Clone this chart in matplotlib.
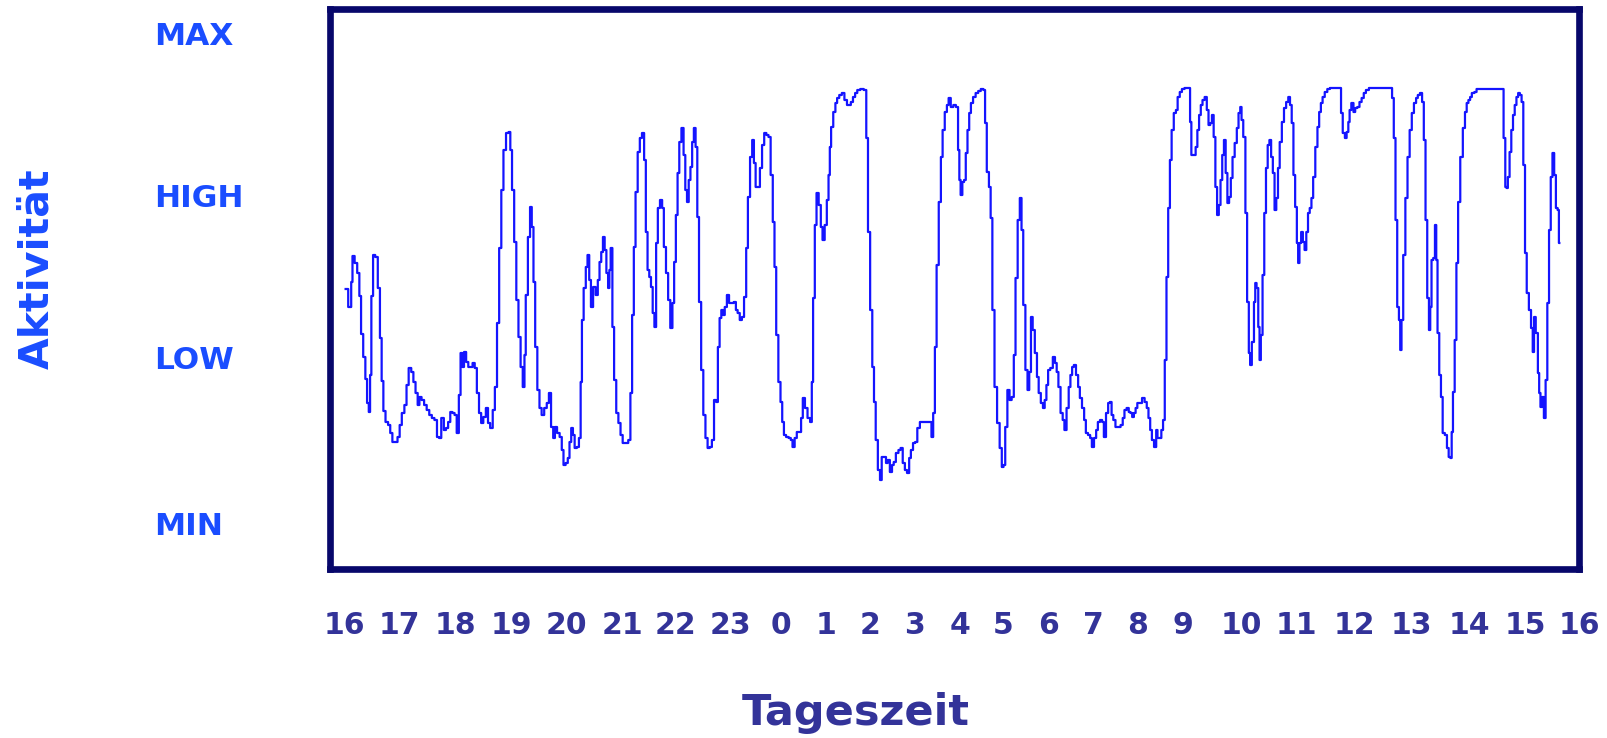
import matplotlib
matplotlib.use("Agg")
import matplotlib.pyplot as plt
import matplotlib.transforms as mtrans

# activity trace: minutes since 16:00 and activity (arbitrary units)
t_min = [
    2, 8, 9, 11, 14, 17, 19, 21, 24, 26,
    28, 30, 31, 33, 35, 38, 41, 43, 45, 47,
    50, 53, 55, 58, 61, 64, 66, 69, 72, 74,
    77, 80, 82, 85, 87, 89, 92, 95, 98, 101,
    104, 107, 110, 112, 115, 118, 120, 123, 125, 128,
    130, 133, 135, 137, 139, 141, 144, 146, 149, 151,
    154, 156, 159, 161, 164, 167, 169, 172, 175, 177,
    180, 182, 185, 187, 191, 193, 195, 197, 200, 202,
    205, 207, 210, 211, 213, 216, 218, 220, 222, 224,
    227, 229, 232, 235, 238, 240,
    243, 245, 247, 250, 253, 255, 257, 260, 262, 264,
    266, 268, 270, 273, 275, 277, 278, 281, 283, 285,
    287, 289, 292, 295, 297, 299, 301, 303, 305, 307,
    309, 310, 312, 314, 316, 319, 321, 324, 326, 330,
    333, 335, 337, 339, 341, 344, 346, 349, 351, 353,
    355, 357, 359, 361, 363, 365, 367, 370, 372, 374,
    377, 379, 382, 384, 386, 388, 390, 392, 395, 397,
    399, 401, 403, 405, 407, 409, 411, 413, 415, 418,
    420, 423, 425, 428, 430, 433, 435, 437, 439, 441,
    443, 445, 448, 450, 453, 456, 458, 460, 463, 465,
    468, 470, 472, 475, 477, 479, 481, 484,
    486, 489, 491, 494, 496, 499, 501, 503, 505, 508,
    510, 512, 514, 517, 520, 522, 524, 527, 529, 532,
    534, 536, 539, 542, 545, 546, 548, 550, 552, 555,
    557, 559, 562, 564, 566, 567, 569, 572, 574, 576,
    579, 582, 585, 588, 590, 592, 595, 597, 600, 604,
    608, 610, 612, 615, 617, 619, 621, 624, 626, 628,
    631, 633, 635, 638, 640, 642, 645, 648, 650, 653,
    655, 658, 660, 662, 665, 667, 670, 673, 676, 679,
    684, 686, 688, 690, 692, 695, 697, 699, 702, 704,
    706, 709, 712, 715, 717,
    718, 720, 722, 724, 726, 728, 730, 732, 735, 738,
    741, 744, 747, 748, 751, 753, 755, 757, 760, 763,
    766, 768, 770, 772, 775, 777, 780, 782, 784, 787,
    789, 791, 793, 796, 798, 800, 802, 804, 807, 809,
    811, 814, 816, 818, 820, 822, 825, 828, 830, 832,
    834, 837, 839, 841, 844, 846, 848, 850, 852, 855,
    857, 859, 862, 864, 866, 869, 871, 873, 876, 878,
    880, 883, 885, 887, 890, 892, 894, 896, 898, 901,
    904, 907, 909, 911, 914, 916, 918, 920, 922, 924,
    926, 929, 932, 935, 937, 939, 941, 943, 946, 948,
    949, 952, 954, 956, 958, 960, 962, 964, 966, 969,
    971,
    973, 976, 978, 982, 986, 987, 989, 992, 994, 996,
    998, 1000, 1002, 1005, 1007, 1009, 1011, 1013, 1015, 1017,
    1019, 1021, 1023, 1025, 1027, 1029, 1031, 1033, 1035, 1037,
    1040, 1042, 1044, 1046, 1047, 1050, 1052, 1054, 1056, 1057,
    1060, 1062, 1063, 1065, 1067, 1068, 1070, 1072, 1074, 1076,
    1078, 1080, 1082, 1084, 1086, 1088, 1090, 1092, 1095, 1097,
    1100, 1102, 1104, 1106, 1108, 1110, 1112, 1113, 1115, 1117,
    1119, 1121, 1123, 1125, 1127, 1129, 1131, 1134, 1136, 1138,
    1140, 1142, 1145, 1148, 1151, 1155, 1159, 1162, 1163, 1166,
    1168, 1170, 1172, 1173, 1176, 1178, 1180, 1183, 1185, 1188,
    1190, 1193, 1197, 1205,
    1221, 1223, 1225, 1227, 1229, 1231, 1232, 1234, 1236, 1239,
    1241, 1244, 1246, 1249, 1251, 1253, 1256, 1258, 1260, 1262,
    1264, 1266, 1267, 1269, 1271, 1273, 1274, 1276, 1278, 1280,
    1282, 1285, 1287, 1289, 1291, 1292, 1294, 1296, 1298, 1300,
    1303, 1306, 1308, 1310, 1312, 1314, 1316, 1320, 1321, 1337,
    1351, 1353, 1355, 1356, 1358, 1360, 1362, 1364, 1366, 1368,
    1370, 1372, 1374, 1376, 1378, 1380, 1383, 1385, 1387, 1388,
    1391, 1393, 1394, 1396, 1398, 1400, 1402, 1404, 1406, 1408,
    1410, 1412, 1414, 1416, 1417,
]
activity = [
    200, 182, 207, 233, 226, 216, 193, 155, 132, 110,
    86, 77, 114, 193, 234, 232, 201, 151, 108, 78,
    67, 64, 56, 47, 47, 52, 64, 76, 84, 104,
    121, 117, 107, 96, 84, 92, 89, 84, 79, 74,
    71, 69, 52, 51, 71, 59, 61, 67, 77, 76,
    74, 56, 94, 136, 122, 137, 127, 122, 122, 126,
    121, 96, 76, 66, 72, 81, 66, 61, 79, 102,
    166, 241, 299, 339, 356, 357, 339, 299, 247, 189,
    152, 122, 102, 134, 194, 252, 282, 262, 207, 142,
    99, 81, 74, 81, 86, 96,
    62, 51, 62, 56, 52, 39, 24, 26, 31, 47,
    61, 54, 41, 42, 51, 107, 169, 201, 222, 234,
    209, 182, 202, 194, 209, 227, 237, 252, 239, 216,
    201, 219, 241, 162, 109, 76, 66, 54, 46, 46,
    49, 96, 174, 242, 297, 337, 351, 356, 329, 257,
    219, 212, 202, 176, 162, 246, 281, 289, 281, 242,
    216, 189, 161, 186, 227, 274, 316, 347, 361, 334,
    299, 287, 309, 322, 347, 361, 342, 272, 187, 119,
    74, 51, 41, 42, 49, 89, 87, 142, 171, 179,
    174, 182, 194, 186, 186, 187, 179, 176, 169, 172,
    192, 241, 292, 332, 349, 326, 302, 302,
    321, 344, 356, 354, 352, 314, 267, 222, 154, 107,
    87, 67, 54, 52, 51, 49, 42, 51, 57, 57,
    71, 91, 81, 71, 67, 107, 191, 264, 296, 284,
    262, 249, 264, 289, 314, 342, 362, 377, 386, 391,
    394, 396, 389, 384, 384, 387, 392, 396, 399, 400,
    399, 351, 257, 179, 122, 87, 49, 19, 9, 32,
    32, 26, 29, 17, 24, 27, 36, 39, 41, 26,
    19, 16, 31, 39, 46, 47, 61, 67, 67, 67,
    67, 52, 76, 142, 224, 287, 332, 359, 377, 384,
    391, 382, 384, 382, 339,
    309, 294, 307, 309, 336, 359, 376, 386, 392, 396,
    398, 400, 399, 366, 317, 302, 271, 179, 102, 66,
    41, 22, 24, 62, 99, 89, 92, 134, 211, 269,
    291, 259, 184, 119, 99, 117, 172, 159, 136, 112,
    96, 86, 81, 89, 104, 119, 121, 132, 126, 117,
    102, 76, 69, 59, 81, 102, 114, 122, 124, 114,
    102, 91, 81, 69, 56, 54, 51, 42, 51, 59,
    67, 69, 67, 52, 76, 86, 87, 74, 69, 62,
    62, 64, 71, 79, 81, 77, 76, 72, 76, 81,
    86, 86, 91, 87, 81, 71, 59, 49, 42, 59,
    51, 51, 59, 69, 129, 212, 281, 329, 359, 376,
    379,
    392, 397, 400, 401, 401, 367, 334, 334, 342, 359,
    374, 384, 389, 392, 379, 364, 366, 374, 352, 302,
    274, 284, 309, 334, 349, 316, 286, 292, 311, 332,
    346, 361, 376, 382, 369, 352, 276, 187, 136, 124,
    147, 187, 206, 201, 162, 129, 154, 214, 276, 321,
    344, 349, 332, 316, 279, 291, 321, 347, 367, 381,
    387, 392, 384, 366, 314, 282, 246, 226, 246, 257,
    247, 239, 257, 276, 281, 291, 312, 342, 362, 377,
    386, 392, 397, 400, 401, 401, 401, 401, 376, 356,
    351, 357, 367, 379, 386, 377, 381, 382, 387, 391,
    396, 399, 401, 401,
    401, 391, 351, 269, 182, 169, 139, 169, 234, 291,
    332, 359, 376, 386, 391, 394, 396, 387, 349, 269,
    191, 159, 182, 229, 231, 264, 229, 156, 114, 92,
    56, 54, 41, 32, 31, 57, 97, 149, 226, 287,
    332, 361, 377, 386, 389, 392, 396, 397, 400, 400,
    400, 351, 302, 301, 312, 337, 359, 374, 384, 392,
    396, 394, 387, 324, 236, 196, 179, 161, 137, 172,
    156, 116, 96, 82, 92, 71, 109, 186, 259, 312,
    336, 314, 281, 279, 246,
]

level_names = ["MIN", "LOW", "HIGH", "MAX"]
level_values = [-38, 128, 290, 452]

hour_labels = ["16", "17", "18", "19", "20", "21", "22", "23", "0", "1", "2", "3",
               "4", "5", "6", "7", "8", "9", "10", "11", "12", "13", "14", "15", "16"]
# label positions along the time axis (minutes), as laid out in the original slide
hour_pos = [0, 65, 130, 195, 259, 325, 387, 451, 509, 562, 613, 665,
            718, 769, 821, 874, 925, 978, 1046, 1111, 1178, 1245, 1312, 1377, 1440]

NAVY = "#333399"
BLUE = "#1a4dff"
FRAME = "#07076b"

fig = plt.figure(figsize=(16.08, 7.38), dpi=100)
ax = fig.add_axes([0.2055, 0.2290, 0.7765, 0.7584])
ax.plot(t_min, activity, color="#1414ff", lw=1.6, drawstyle="steps-mid")
ax.set_xlim(-15.7, 1436.5)
ax.set_ylim(-80, 479.7)

for s in ax.spines.values():
    s.set_color(FRAME)
    s.set_linewidth(4.8)

ax.set_xticks(hour_pos)
ax.set_xticklabels(hour_labels)
ax.tick_params(axis="x", length=0, pad=30, labelsize=21.5, labelcolor=NAVY)
for lab in ax.get_xticklabels():
    lab.set_fontweight("bold")
ax.set_yticks([])

tr = mtrans.blended_transform_factory(fig.transFigure, ax.transData)
for name, v in zip(level_names, level_values):
    fig.text(0.0958, v, name, transform=tr, ha="left", va="center",
             fontsize=22.5, fontweight="bold", color=BLUE)

fig.text(0.023, 0.6355, "Aktivität", rotation=90, ha="center", va="center",
         fontsize=29.5, fontweight="bold", color=BLUE)
fig.text(0.5323, 0.0176, "Tageszeit", ha="center", va="baseline",
         fontsize=31, fontweight="bold", color=NAVY)

fig.savefig("out.png", dpi=100)
